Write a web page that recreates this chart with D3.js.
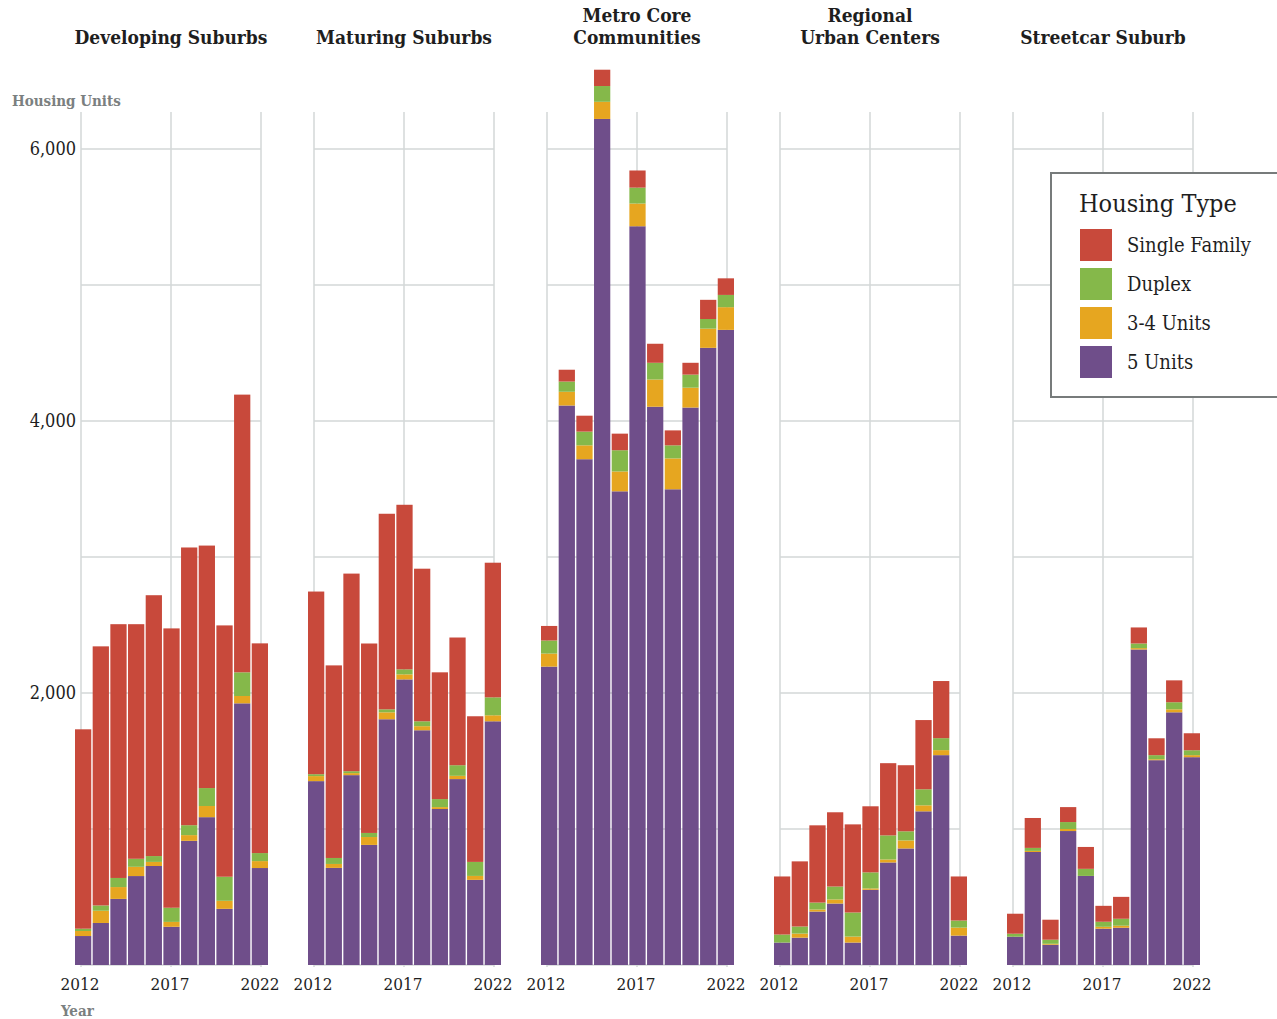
<!DOCTYPE html>
<html lang="en">
<head>
<meta charset="UTF-8">
<title>Housing Units by Type</title>
<script src="https://d3js.org/d3.v7.min.js"></script>
<style>
    body{
        margin:0;
        background:#fff;
    }
    .slab{
        font-family:"DejaVu Serif Condensed","DejaVu Serif",serif;
    }
    .grid line{
        stroke:#d3d7d7;
        stroke-width:1.5;
    }
</style>
</head>
<body>
<script>
    // chart size
    var w = 1277;
    var h = 1019;

    // data
    var years = [2012,2013,2014,2015,2016,2017,2018,2019,2020,2021,2022];
    var regions = ["Developing Suburbs","Maturing Suburbs","Metro Core Communities","Regional Urban Centers","Streetcar Suburb"];
    var titleLines = [["Developing Suburbs"],["Maturing Suburbs"],["Metro Core","Communities"],["Regional","Urban Centers"],["Streetcar Suburb"]];
    var typeNames = ["Single Family","Duplex","3-4 Units","5 Units"];
    var typeColors = ["#c8493b","#85b84a","#e6a620","#6f4e8a"];

    // one row per region, one value per year
    var fiveUnits = [
        [213,309,486,654,728,281,913,1087,413,1924,713],
        [1352,714,1396,883,1807,2100,1726,1147,1367,626,1792],
        [2194,4114,3719,6221,3483,5432,4105,3498,4099,4538,4670],
        [165,201,393,452,165,553,754,857,1130,1543,216],
        [208,831,149,985,655,267,274,2320,1506,1858,1528]
    ];
    var threeFour = [
        [37,90,87,68,30,36,42,82,59,54,51],
        [37,29,15,58,51,37,30,14,24,29,44],
        [96,101,102,126,146,167,200,227,146,141,167],
        [0,30,15,30,44,10,22,59,44,37,59],
        [0,8,7,15,0,14,15,10,7,22,15]
    ];
    var duplex = [
        [17,39,67,59,43,104,73,132,177,174,59],
        [14,44,14,30,22,37,36,59,78,103,132],
        [96,75,101,116,156,117,123,96,96,71,90],
        [59,52,51,95,177,118,177,67,118,88,52],
        [22,22,30,51,52,37,51,34,30,52,36]
    ];
    var singleFamily = [
        [1466,1905,1866,1725,1918,2054,2042,1783,1848,2042,1542],
        [1343,1416,1453,1393,1438,1210,1122,932,939,1071,990],
        [107,87,117,120,122,126,140,110,87,141,122],
        [427,479,568,546,648,486,531,486,509,420,324],
        [147,220,147,110,161,117,161,118,124,161,125]
    ];
    var yTicks = [2000,4000,6000];
    var yGrid = [0,1000,2000,3000,4000,5000,6000];
    var xTicks = [2012,2017,2022];

    var keys = ["fiveUnits","threeFour","duplex","single"];
    var colorScale = d3.scaleOrdinal()
        .domain(keys)
        .range(["#6f4e8a","#e6a620","#85b84a","#c8493b"]);

    var svg = d3.select("body")
        .append("svg")
        .attr("width",w)
        .attr("height",h);

    var yScale = d3.scaleLinear()
        .domain([0,6000])
        .range([965,149]);

    var gridTop = 112;
    var panelStep = 233;
    var gridWidth = 180;

    regions.forEach(function(region,i){
        var g0 = 81 + i*panelStep;

        var rows = years.map(function(yr,j){
            return {
                year:yr,
                fiveUnits:fiveUnits[i][j],
                threeFour:threeFour[i][j],
                duplex:duplex[i][j],
                single:singleFamily[i][j]
            };
        });
        var series = d3.stack().keys(keys)(rows);

        // gridlines use a linear year scale, bars a band scale
        var xLine = d3.scaleLinear()
            .domain([2012,2022])
            .range([g0,g0+gridWidth]);
        var xBand = d3.scaleBand()
            .domain(years)
            .range([g0-6,g0+gridWidth+7])
            .paddingInner(0.08);

        var panel = svg.append("g").attr("class","panel");

        var grid = panel.append("g").attr("class","grid");
        grid.selectAll("line.h")
            .data(yGrid)
            .enter()
            .append("line")
            .attr("class","h")
            .attr("x1",g0)
            .attr("x2",g0+gridWidth)
            .attr("y1",d => yScale(d))
            .attr("y2",d => yScale(d));
        grid.selectAll("line.v")
            .data(xTicks)
            .enter()
            .append("line")
            .attr("class","v")
            .attr("x1",d => xLine(d))
            .attr("x2",d => xLine(d))
            .attr("y1",gridTop)
            .attr("y2",yScale(0)+2);

        panel.selectAll("g.layer")
            .data(series)
            .enter()
            .append("g")
            .attr("class","layer")
            .attr("fill",d => colorScale(d.key))
            .selectAll("rect")
            .data(d => d)
            .enter()
            .append("rect")
            .attr("x",d => xBand(d.data.year))
            .attr("width",xBand.bandwidth())
            .attr("y",d => yScale(d[1]))
            .attr("height",d => yScale(d[0]) - yScale(d[1]));

        // year labels
        panel.selectAll("text.year")
            .data(xTicks)
            .enter()
            .append("text")
            .attr("class","year slab")
            .attr("x",d => xLine(d) - 1)
            .attr("y",990)
            .attr("text-anchor","middle")
            .attr("font-size",17)
            .attr("fill","#1e1e1e")
            .text(d => d);

        // panel title
        var lines = titleLines[i];
        var title = panel.append("text")
            .attr("class","slab")
            .attr("text-anchor","middle")
            .attr("font-size",19)
            .attr("font-weight","bold")
            .attr("fill","#1e1e1e");
        lines.forEach(function(line,k){
            title.append("tspan")
                .attr("x",g0 + gridWidth/2)
                .attr("y",44 - (lines.length-1-k)*22)
                .text(line);
        });
    });

    // y labels on the left panel only
    svg.selectAll("text.ytick")
        .data(yTicks)
        .enter()
        .append("text")
        .attr("class","ytick slab")
        .attr("x",76)
        .attr("y",d => yScale(d))
        .attr("dy","0.35em")
        .attr("text-anchor","end")
        .attr("font-size",18)
        .attr("fill","#1e1e1e")
        .text(d => d3.format(",")(d));

    svg.append("text")
        .attr("class","slab")
        .attr("x",12)
        .attr("y",106)
        .attr("font-size",15)
        .attr("font-weight","bold")
        .attr("fill","#7b8080")
        .text("Housing Units");

    svg.append("text")
        .attr("class","slab")
        .attr("x",61)
        .attr("y",1016)
        .attr("font-size",15)
        .attr("font-weight","bold")
        .attr("fill","#7b8080")
        .text("Year");

    // legend
    var legend = svg.append("g").attr("transform","translate(1051,173)");
    legend.append("rect")
        .attr("width",240)
        .attr("height",224)
        .attr("fill","#fff")
        .attr("stroke","#777b7b")
        .attr("stroke-width",2);
    legend.append("text")
        .attr("class","slab")
        .attr("x",28)
        .attr("y",39)
        .attr("font-size",25)
        .attr("fill","#1e1e1e")
        .text("Housing Type");
    var item = legend.selectAll("g.item")
        .data(typeNames)
        .enter()
        .append("g")
        .attr("class","item")
        .attr("transform",(d,k) => "translate(29," + (56 + k*39) + ")");
    item.append("rect")
        .attr("width",32)
        .attr("height",32)
        .attr("fill",(d,k) => typeColors[k]);
    item.append("text")
        .attr("class","slab")
        .attr("x",47)
        .attr("y",16)
        .attr("dy","0.35em")
        .attr("font-size",20)
        .attr("fill","#1e1e1e")
        .text(d => d);
</script>
</body>
</html>
